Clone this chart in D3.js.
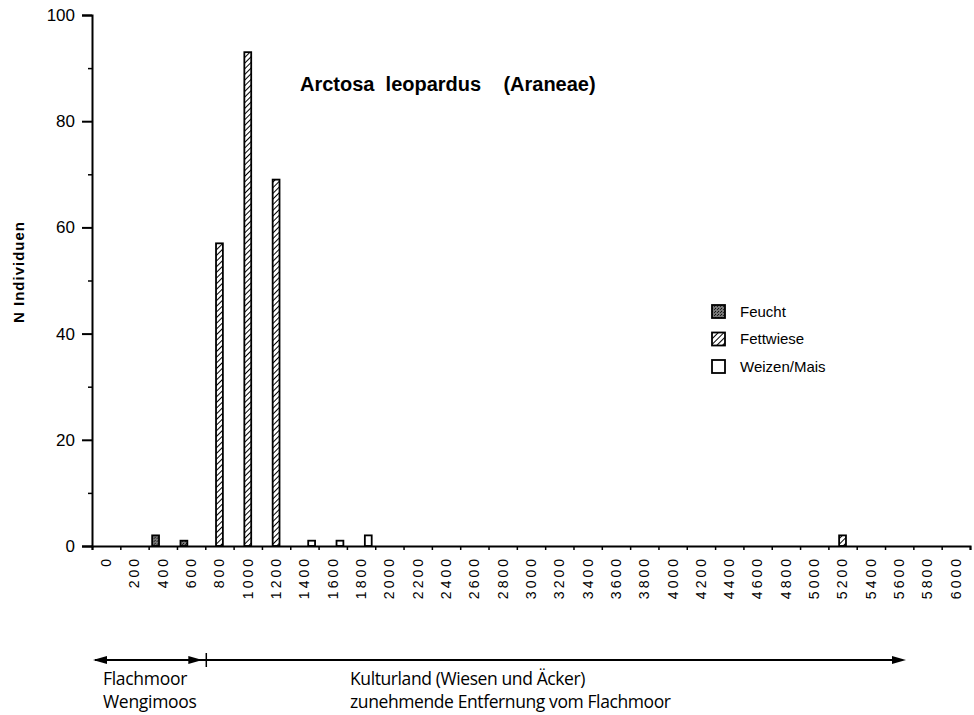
<!DOCTYPE html>
<html>
<head>
<meta charset="utf-8">
<script src="https://cdn.jsdelivr.net/npm/d3@7"></script>
<style>
  body { margin: 0; background: #fff; }
  svg { display: block; }
  .axis text { font-family: "Liberation Sans", Arial, sans-serif; fill: #000; }
</style>
</head>
<body>
<div id="viz"></div>
<script>
// distance classes (m)
const categories = ['0', '200', '400', '600', '800', '1000', '1200', '1400', '1600', '1800',
  '2000', '2200', '2400', '2600', '2800', '3000', '3200', '3400', '3600', '3800',
  '4000', '4200', '4400', '4600', '4800', '5000', '5200', '5400', '5600', '5800', '6000'];

const feucht = [0, 0, 2, 1, 0, 0, 0, 0, 0, 0, 0, 0, 0, 0, 0, 0,
  0, 0, 0, 0, 0, 0, 0, 0, 0, 0, 0, 0, 0, 0, 0];
const fettwiese = [0, 0, 0, 0, 57, 93, 69, 0, 0, 0, 0, 0, 0, 0, 0, 0,
  0, 0, 0, 0, 0, 0, 0, 0, 0, 0, 2, 0, 0, 0, 0];
const weizenMais = [0, 0, 0, 0, 0, 0, 0, 1, 1, 2, 0, 0, 0, 0, 0, 0,
  0, 0, 0, 0, 0, 0, 0, 0, 0, 0, 0, 0, 0, 0, 0];

const seriesNames = ['Feucht', 'Fettwiese', 'Weizen/Mais'];
const seriesValues = [feucht, fettwiese, weizenMais];
const yMajor = [0, 20, 40, 60, 80, 100];
const yMinor = [10, 30, 50, 70, 90];

const WIDTH = 974;
const HEIGHT = 715;

const svg = d3.select('#viz').append('svg')
  .attr('width', WIDTH)
  .attr('height', HEIGHT);

// patterns
const defs = svg.append('defs');
const hatch = defs.append('pattern')
  .attr('id', 'hatch')
  .attr('patternUnits', 'userSpaceOnUse')
  .attr('width', 4)
  .attr('height', 4)
  .attr('patternTransform', 'rotate(45)');
hatch.append('rect').attr('width', 4).attr('height', 4).attr('fill', '#fff');
hatch.append('line')
  .attr('x1', 0).attr('y1', 0).attr('x2', 0).attr('y2', 4)
  .attr('stroke', '#000').attr('stroke-width', 2);

const stipple = defs.append('pattern')
  .attr('id', 'stipple')
  .attr('patternUnits', 'userSpaceOnUse')
  .attr('width', 3)
  .attr('height', 3);
stipple.append('rect').attr('width', 3).attr('height', 3).attr('fill', '#777');
stipple.append('rect').attr('width', 1).attr('height', 1).attr('fill', '#111');
stipple.append('rect').attr('x', 2).attr('y', 1).attr('width', 1).attr('height', 1).attr('fill', '#222');

const fills = { 'Feucht': 'url(#stipple)', 'Fettwiese': 'url(#hatch)', 'Weizen/Mais': '#fff' };

// scales
const x0 = d3.scaleBand()
  .domain(categories)
  .range([92, 970])
  .padding(0);

const x1 = d3.scaleBand()
  .domain(seriesNames)
  .range([x0.bandwidth() / 2 - 11, x0.bandwidth() / 2 + 11])
  .padding(0.05);

const y = d3.scaleLinear()
  .domain([0, 100])
  .range([546, 15]);

// bars
const rows = categories.map((c, i) => ({
  cat: c,
  values: seriesNames.map((s, j) => ({ key: s, value: seriesValues[j][i] }))
}));

svg.append('g')
  .attr('class', 'bars')
  .selectAll('g')
  .data(rows)
  .join('g')
    .attr('transform', d => `translate(${x0(d.cat)},0)`)
  .selectAll('rect')
  .data(d => d.values.filter(v => v.value > 0))
  .join('rect')
    .attr('x', d => x1(d.key))
    .attr('y', d => y(d.value))
    .attr('width', x1.bandwidth())
    .attr('height', d => y(0) - y(d.value))
    .attr('fill', d => fills[d.key])
    .attr('stroke', '#000')
    .attr('stroke-width', 1.8);

// y axis
const yAxis = svg.append('g')
  .attr('class', 'axis yaxis')
  .attr('transform', `translate(${x0.range()[0]},0)`)
  .call(d3.axisLeft(y).tickValues(yMajor).tickSize(10).tickPadding(7));
yAxis.select('.domain').attr('stroke-width', 2);
yAxis.selectAll('.tick line').attr('stroke-width', 2);
yAxis.selectAll('text').attr('font-size', 17);

svg.append('g')
  .attr('class', 'axis yminor')
  .attr('transform', `translate(${x0.range()[0]},0)`)
  .call(d3.axisLeft(y).tickValues(yMinor).tickSize(4).tickFormat(''))
  .call(g => g.select('.domain').remove())
  .selectAll('line').attr('stroke-width', 1.5);

// x axis: ticks at class boundaries
const xEdges = d3.scaleLinear()
  .domain([0, categories.length])
  .range(x0.range());

const xTicks = svg.append('g')
  .attr('class', 'axis xticks')
  .attr('transform', `translate(0,${y(0)})`)
  .call(d3.axisBottom(xEdges).ticks(categories.length).tickSize(4).tickFormat(''));
xTicks.select('.domain').attr('stroke-width', 2);
xTicks.selectAll('.tick line').attr('stroke-width', 1.5);

const xLabels = svg.append('g')
  .attr('class', 'axis xlabels')
  .attr('transform', `translate(0,${y(0)})`)
  .call(d3.axisBottom(x0).tickSize(0));
xLabels.select('.domain').remove();
xLabels.selectAll('text')
  .attr('font-size', 14)
  .attr('letter-spacing', 3)
  .attr('transform', 'rotate(-90)')
  .attr('text-anchor', 'end')
  .attr('x', -10)
  .attr('y', 0)
  .attr('dy', '0.35em');

// y axis title
svg.append('text')
  .attr('transform', 'translate(24,272) rotate(-90)')
  .attr('text-anchor', 'middle')
  .attr('font-family', '"Liberation Sans", Arial, sans-serif')
  .attr('font-weight', 'bold')
  .attr('font-size', 15)
  .attr('letter-spacing', 1)
  .text('N  Individuen');

// title
svg.append('text')
  .attr('x', 300)
  .attr('y', 91)
  .attr('font-family', '"Liberation Sans", Arial, sans-serif')
  .attr('font-weight', 'bold')
  .attr('font-size', 20)
  .style('white-space', 'pre')
  .text('Arctosa  leopardus    (Araneae)');

// legend
const legend = svg.append('g')
  .attr('class', 'legend')
  .attr('transform', 'translate(712,305)')
  .selectAll('g')
  .data(seriesNames)
  .join('g')
    .attr('transform', (d, i) => `translate(0,${i * 27.5})`);
legend.append('rect')
  .attr('width', 13)
  .attr('height', 13)
  .attr('fill', d => fills[d])
  .attr('stroke', '#000')
  .attr('stroke-width', 1.8);
legend.append('text')
  .attr('x', 28)
  .attr('y', 6.5)
  .attr('dy', '0.35em')
  .attr('font-family', '"Liberation Sans", Arial, sans-serif')
  .attr('font-size', 15)
  .text(d => d);

// distance annotation below the axis
const arrowY = 660;
const ann = svg.append('g').attr('class', 'annotation');
const divider = x0('800');
ann.append('line')
  .attr('x1', 95).attr('x2', 900)
  .attr('y1', arrowY).attr('y2', arrowY)
  .attr('stroke', '#000').attr('stroke-width', 2);

function head(tip, dir) {
  ann.append('path')
    .attr('d', `M${tip},${arrowY} L${tip - dir * 14},${arrowY - 4} L${tip - dir * 14},${arrowY + 4} Z`)
    .attr('fill', '#000');
}
head(93, -1);
head(divider - 3, 1);
head(906, 1);
ann.append('line')
  .attr('x1', divider + 1).attr('x2', divider + 1)
  .attr('y1', arrowY - 7).attr('y2', arrowY + 7)
  .attr('stroke', '#000').attr('stroke-width', 1.5);

const annFont = '"Open Sans", "Noto Sans", sans-serif';
ann.selectAll('text.left')
  .data(['Flachmoor', 'Wengimoos'])
  .join('text')
    .attr('class', 'left')
    .attr('x', 103)
    .attr('y', (d, i) => 685 + i * 23)
    .attr('font-family', annFont)
    .attr('font-size', 17.5)
    .attr('letter-spacing', -0.3)
    .text(d => d);
ann.selectAll('text.right')
  .data(['Kulturland (Wiesen und Äcker)', 'zunehmende Entfernung vom Flachmoor'])
  .join('text')
    .attr('class', 'right')
    .attr('x', 350)
    .attr('y', (d, i) => 685 + i * 23)
    .attr('font-family', annFont)
    .attr('font-size', 17.5)
    .attr('letter-spacing', -0.4)
    .text(d => d);
</script>
</body>
</html>
